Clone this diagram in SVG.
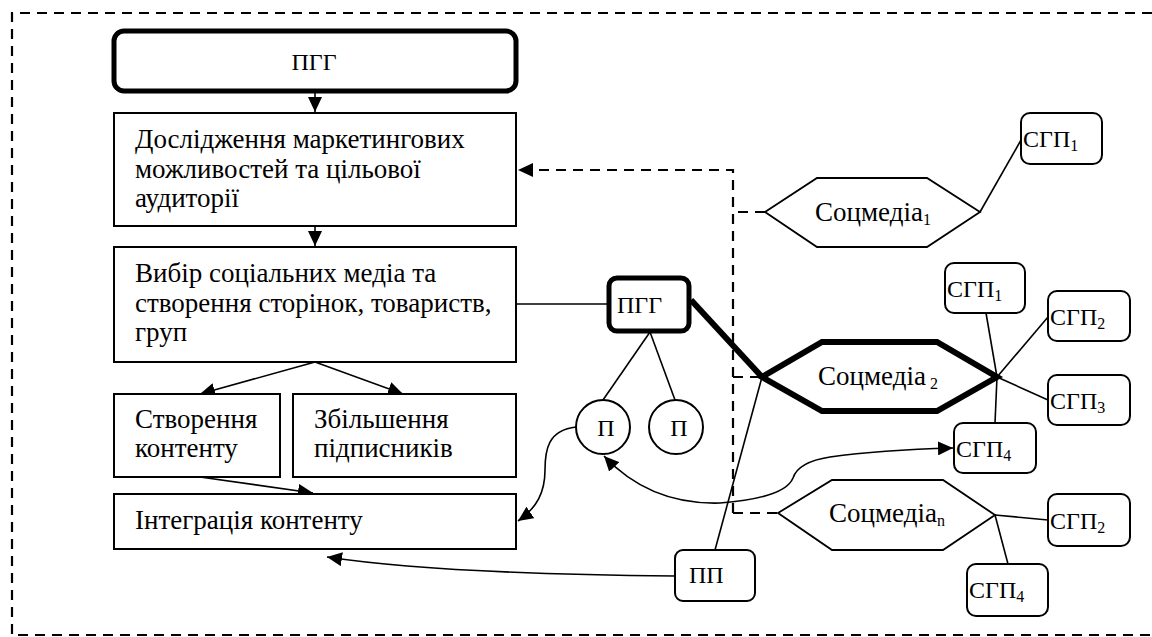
<svg xmlns="http://www.w3.org/2000/svg" width="1152" height="637" viewBox="0 0 1152 637">
<style>
text{font-family:"Liberation Serif",serif;font-size:27px;fill:#000}
.s{font-size:24px}
.sub{font-size:16px}
.box{fill:#fff;stroke:#000;stroke-width:2}
.thick{fill:#fff;stroke:#000;stroke-width:5}
.ln{fill:none;stroke:#000;stroke-width:1.6}
.dash{fill:none;stroke:#000;stroke-width:2.2;stroke-dasharray:10 7}
.hex{fill:#fff;stroke:#000;stroke-width:1.8}
.hexb{fill:#fff;stroke:#000;stroke-width:6;stroke-linejoin:miter}
</style>
<defs>
<marker id="ah" viewBox="0 0 15 14" refX="15" refY="7" markerWidth="15" markerHeight="14" markerUnits="userSpaceOnUse" orient="auto-start-reverse">
<path d="M0,0 L15,7 L0,14 Z" fill="#000"/>
</marker>
</defs>
<path class="dash" d="M1152,13 H12 V635 H1152"/>
<g id="connectors">
<line class="ln" x1="315" y1="92" x2="315" y2="112" marker-end="url(#ah)"/>
<line class="ln" x1="315" y1="226" x2="315" y2="246" marker-end="url(#ah)"/>
<line class="ln" x1="315" y1="362" x2="200" y2="394" marker-end="url(#ah)"/>
<line class="ln" x1="315" y1="362" x2="403" y2="394" marker-end="url(#ah)"/>
<line class="ln" x1="200" y1="477" x2="313" y2="493" marker-end="url(#ah)"/>
<line class="ln" x1="516" y1="304" x2="608" y2="304"/>
<line class="ln" x1="650" y1="332" x2="603" y2="400"/>
<line class="ln" x1="650" y1="332" x2="675" y2="400"/>
<line x1="691" y1="300" x2="762" y2="377" stroke="#000" stroke-width="6"/>
<line class="ln" x1="715" y1="550" x2="762" y2="377"/>
<path class="dash" d="M765,212 H733 M733,513 V170 H518" marker-end="url(#ah)"/>
<path class="dash" d="M733,377 H762 M733,513 H778"/>
<path class="ln" d="M675,576 C560,575 420,571 327,557" marker-end="url(#ah)"/>
<path class="ln" d="M576,427 C548,430 545,450 545,470 C545,492 537,508 518,521" marker-end="url(#ah)"/>
<path class="ln" d="M604,456 Q650,505 720,503 Q785,498 793,478 Q798,462 830,457 Q880,450 953,448" marker-start="url(#ah)" marker-end="url(#ah)"/>
<line class="ln" x1="980" y1="212" x2="1021" y2="140"/>
<line class="ln" x1="997" y1="377" x2="986" y2="313"/>
<line class="ln" x1="997" y1="377" x2="1048" y2="317"/>
<line class="ln" x1="997" y1="377" x2="1048" y2="400"/>
<line class="ln" x1="997" y1="377" x2="995" y2="423"/>
<line class="ln" x1="995" y1="515" x2="1048" y2="520"/>
<line class="ln" x1="995" y1="515" x2="1008" y2="564"/>
</g>
<g id="pgg-top"><rect class="thick" x="114" y="31" width="402" height="60" rx="10"/><text class="s" x="314" y="70" text-anchor="middle">ПГГ</text></g>
<g id="research"><rect class="box" x="114" y="113" width="402" height="113"/>
<text x="135" y="148">Дослідження маркетингових</text><text x="135" y="178">можливостей та цільової</text><text x="135" y="207">аудиторії</text></g>
<g id="choice"><rect class="box" x="114" y="247" width="402" height="115"/>
<text x="135" y="282">Вибір соціальних медіа та</text><text x="135" y="312">створення сторінок, товариств,</text><text x="135" y="341">груп</text></g>
<g id="content"><rect class="box" x="114" y="394" width="166" height="83"/><text x="135" y="428">Створення</text><text x="135" y="457">контенту</text></g>
<g id="subs"><rect class="box" x="293" y="394" width="223" height="83"/><text x="314" y="428">Збільшення</text><text x="314" y="457">підписників</text></g>
<g id="integr"><rect class="box" x="114" y="494" width="402" height="55"/><text x="135" y="529">Інтеграція контенту</text></g>
<g id="pgg-small"><rect class="thick" x="609" y="278" width="80" height="53" rx="8"/><text class="s" x="617" y="313">ПГГ</text></g>
<g id="p1"><circle class="box" cx="603" cy="427" r="27"/><text class="s" x="606" y="436" text-anchor="middle">П</text></g>
<g id="p2"><circle class="box" cx="676" cy="427" r="27"/><text class="s" x="679" y="436" text-anchor="middle">П</text></g>
<g id="pp"><rect class="box" x="675" y="550" width="80" height="51" rx="8"/><text class="s" x="689" y="583">ПП</text></g>
<g id="sm1"><polygon class="hex" points="765,212 817,178 927,178 980,212 927,247 817,247"/><text x="815" y="221">Соцмедіа<tspan class="sub" dy="4">1</tspan></text></g>
<g id="sm2"><polygon class="hexb" points="762,377 822,342 937,342 997,377 937,411 822,411"/><text x="818" y="385">Соцмедіа<tspan class="sub" dy="4"> 2</tspan></text></g>
<g id="smn"><polygon class="hex" points="778,513 832,480 943,480 995,515 943,550 832,550"/><text x="829" y="522">Соцмедіа<tspan class="sub" dy="4">n</tspan></text></g>
<g id="sgp1a"><rect class="box" x="1021" y="113" width="81" height="51" rx="9"/><text class="s" x="1023" y="147">СГП<tspan class="sub" dy="4">1</tspan></text></g>
<g id="sgp1b"><rect class="box" x="945" y="263" width="80" height="50" rx="9"/><text class="s" x="947" y="297">СГП<tspan class="sub" dy="4">1</tspan></text></g>
<g id="sgp2b"><rect class="box" x="1048" y="291" width="82" height="50" rx="9"/><text class="s" x="1050" y="325">СГП<tspan class="sub" dy="4">2</tspan></text></g>
<g id="sgp3b"><rect class="box" x="1048" y="375" width="82" height="50" rx="9"/><text class="s" x="1050" y="409">СГП<tspan class="sub" dy="4">3</tspan></text></g>
<g id="sgp4b"><rect class="box" x="954" y="423" width="82" height="50" rx="9"/><text class="s" x="956" y="457">СГП<tspan class="sub" dy="4">4</tspan></text></g>
<g id="sgp2n"><rect class="box" x="1048" y="494" width="82" height="52" rx="9"/><text class="s" x="1050" y="529">СГП<tspan class="sub" dy="4">2</tspan></text></g>
<g id="sgp4n"><rect class="box" x="967" y="564" width="81" height="52" rx="9"/><text class="s" x="969" y="598">СГП<tspan class="sub" dy="4">4</tspan></text></g>
</svg>
